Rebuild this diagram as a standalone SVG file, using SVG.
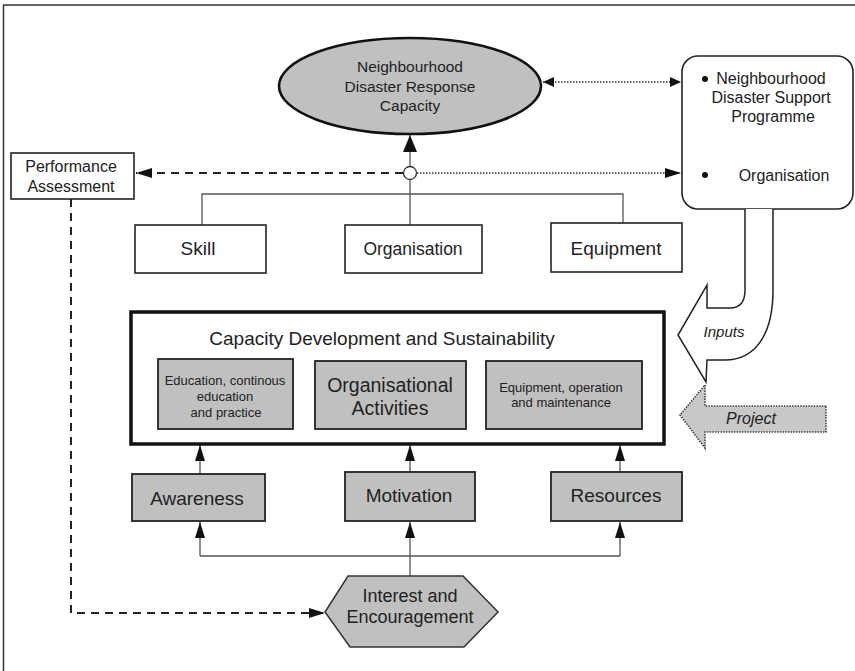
<svg xmlns="http://www.w3.org/2000/svg" width="855" height="671" viewBox="0 0 855 671">
<style>
text{font-family:"Liberation Sans",Arial,sans-serif;fill:#222;text-anchor:middle}
.box{fill:#fff;stroke:#222;stroke-width:1.6}
.gbox{fill:#c0c0c0;stroke:#222;stroke-width:1.8}
.ln{fill:none;stroke:#555;stroke-width:1.3}
.dash{fill:none;stroke:#222;stroke-width:2;stroke-dasharray:8,6}
.dot{fill:none;stroke:#333;stroke-width:1.6;stroke-dasharray:1.5,1.5}
</style>
<defs>
<marker id="ah" viewBox="0 0 16 10" refX="16" refY="5" markerWidth="16" markerHeight="10" orient="auto-start-reverse" markerUnits="userSpaceOnUse"><path d="M0,0 L16,5 L0,10 z" fill="#111"/></marker>
<marker id="ahs" viewBox="0 0 11 10" refX="11" refY="5" markerWidth="11" markerHeight="10" orient="auto-start-reverse" markerUnits="userSpaceOnUse"><path d="M0,0 L11,5 L0,10 z" fill="#111"/></marker>
<marker id="ahl" viewBox="0 0 17 14" refX="17" refY="7" markerWidth="17" markerHeight="14" orient="auto" markerUnits="userSpaceOnUse"><path d="M0,0 L17,7 L0,14 z" fill="#111"/></marker>
</defs>
<rect width="855" height="671" fill="#fff"/>
<path d="M3.5,671 L3.5,5 L855,5" fill="none" stroke="#333" stroke-width="1.5"/>

<g id="connectors">
<path class="ln" d="M410,225 L410,135" marker-end="url(#ahl)"/>
<path class="dash" d="M403,173 L136,173" marker-end="url(#ah)"/>
<path class="dot" d="M417,173 L681,173" marker-end="url(#ah)"/>
<path class="dot" d="M543,82 L681,82" marker-start="url(#ahs)" marker-end="url(#ahs)"/>
<path class="ln" d="M202,225 L202,194 L623,194 L623,223"/>
<path class="ln" d="M200,474 L200,445" marker-end="url(#ah)"/>
<path class="ln" d="M410,472 L410,445" marker-end="url(#ah)"/>
<path class="ln" d="M620,472 L620,445" marker-end="url(#ah)"/>
<path class="ln" d="M200,556 L620,556"/>
<path class="ln" d="M200,556 L200,522" marker-end="url(#ah)"/>
<path class="ln" d="M620,556 L620,522" marker-end="url(#ah)"/>
<path class="ln" d="M410,576 L410,522" marker-end="url(#ah)"/>
<path class="dash" d="M71,199 L71,613 L325,613" marker-end="url(#ah)"/>
<circle cx="410" cy="173" r="6.5" fill="#fff" stroke="#333" stroke-width="1.3"/>
</g>

<g id="response-capacity">
<ellipse cx="410" cy="86" rx="131" ry="48" fill="#c0c0c0" stroke="#111" stroke-width="2.6"/>
<text x="410" y="72" font-size="15.5">Neighbourhood</text>
<text x="410" y="92" font-size="15.5">Disaster Response</text>
<text x="410" y="111" font-size="15.5">Capacity</text>
</g>

<g id="support-programme">
<rect x="682" y="56" width="171" height="153" rx="16" class="box"/>
<circle cx="705" cy="79" r="3" fill="#111"/>
<circle cx="705" cy="175" r="3" fill="#111"/>
<text x="771" y="84" font-size="16">Neighbourhood</text>
<text x="771" y="103" font-size="16">Disaster Support</text>
<text x="773" y="122" font-size="16">Programme</text>
<text x="784" y="181" font-size="16">Organisation</text>
</g>

<g id="performance-assessment">
<rect x="11" y="153" width="123" height="46" class="box"/>
<text x="71" y="172" font-size="16">Performance</text>
<text x="71" y="192" font-size="16">Assessment</text>
</g>

<g id="skill">
<rect x="135" y="225" width="131" height="48" class="box"/>
<text x="198" y="255" font-size="19">Skill</text>
</g>
<g id="organisation">
<rect x="345" y="225" width="137" height="48" class="box"/>
<text x="413" y="255" font-size="17.5">Organisation</text>
</g>
<g id="equipment">
<rect x="551" y="223" width="131" height="49" class="box"/>
<text x="616" y="255" font-size="19">Equipment</text>
</g>

<g id="capacity-development">
<rect x="131" y="312" width="533" height="132" fill="#fff" stroke="#111" stroke-width="3.5"/>
<text x="382" y="345" font-size="19">Capacity Development and Sustainability</text>
</g>
<g id="education">
<rect x="158" y="359" width="135" height="70" class="gbox"/>
<text x="225" y="385" font-size="13">Education, continous</text>
<text x="225" y="401" font-size="13">education</text>
<text x="226" y="417" font-size="13">and practice</text>
</g>
<g id="org-activities">
<rect x="315" y="361" width="151" height="68" class="gbox"/>
<text x="390" y="392" font-size="19.5">Organisational</text>
<text x="390" y="415" font-size="19.5">Activities</text>
</g>
<g id="equip-operation">
<rect x="486" y="361" width="156" height="68" class="gbox"/>
<text x="561" y="392" font-size="13">Equipment, operation</text>
<text x="561" y="407" font-size="13">and maintenance</text>
</g>

<g id="awareness">
<rect x="132" y="474" width="133" height="47" class="gbox"/>
<text x="197" y="505" font-size="19">Awareness</text>
</g>
<g id="motivation">
<rect x="345" y="472" width="130" height="49" class="gbox"/>
<text x="409" y="502" font-size="19">Motivation</text>
</g>
<g id="resources">
<rect x="551" y="472" width="131" height="49" class="gbox"/>
<text x="616" y="502" font-size="19">Resources</text>
</g>

<g id="interest">
<polygon points="348,576 463,576 498,612 464,647 350,647 325,612" fill="#c0c0c0" stroke="#333" stroke-width="1.5"/>
<text x="410" y="602" font-size="18">Interest and</text>
<text x="410" y="623" font-size="18">Encouragement</text>
</g>

<g id="inputs">
<path d="M745,209 L745,290 C745,302 740,308 730,308 L707,308 L707,285 L678,335 L706,382 L707,360 L725,360 C755,360 773,335 773,290 L773,209" fill="#fff" stroke="#222" stroke-width="1.5"/>
<text x="724" y="337" font-size="15" font-style="italic">Inputs</text>
</g>

<g id="project">
<path d="M826,406 L705,406 L705,385 L680,415 L705,448 L705,432 L826,432 Z" fill="#c8c8c8" stroke="#444" stroke-width="1.6" stroke-dasharray="1.5,1.2"/>
<text x="751" y="424" font-size="16" font-style="italic">Project</text>
</g>
</svg>
